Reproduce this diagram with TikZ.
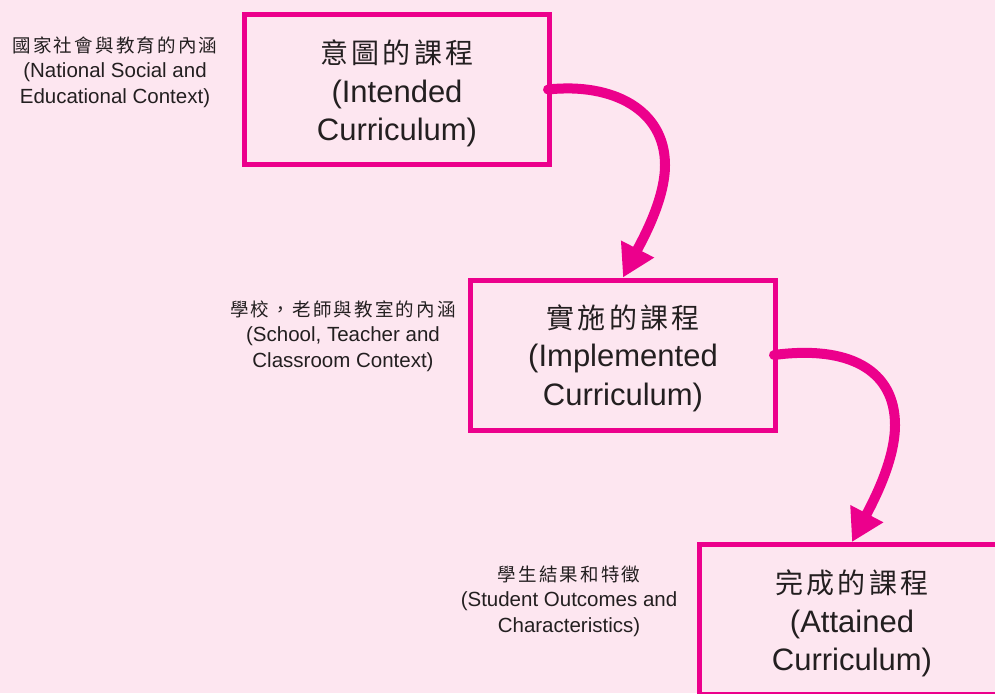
\documentclass[tikz,border=0pt]{standalone}
\usepackage{fontspec}
\setmainfont{Liberation Sans}
\newfontfamily\cjk[LetterSpace=12]{Noto Sans CJK TC}
\usetikzlibrary{arrows.meta}
\definecolor{bg}{RGB}{253,230,240}
\definecolor{mag}{RGB}{236,0,140}
\definecolor{ink}{RGB}{35,31,32}
\begin{document}
\begin{tikzpicture}[x=1pt,y=-1pt,
  box/.style={draw=mag, line width=5pt, minimum width=305pt, minimum height=150pt, inner sep=0pt},
  boxtext/.style={align=center, inner sep=0pt, text=ink, font=\fontsize{31}{38.5}\selectfont},
  side/.style={align=center, inner sep=0pt, text=ink, font=\fontsize{20.5}{25.5}\selectfont},
  flow/.style={draw=mag, line width=10pt, line cap=round,
    -{Triangle[length=32pt,width=35pt]}}]
\clip (0,0) rectangle (995,693);
\fill[bg] (0,0) rectangle (995,693);
\node[box] (b1) at (397,89.5) {};
\node[box] (b2) at (623,355) {};
\node[box] (b3) at (852,619.5) {};
\node[boxtext] (t1) at ([yshift=-4pt]b1.center) {{\cjk\fontsize{28}{38.5}\selectfont 意圖的課程}\\(Intended\\Curriculum)};
\node[boxtext] (t2) at ([yshift=-3pt]b2.center) {{\cjk\fontsize{28}{38.5}\selectfont 實施的課程}\\(Implemented\\Curriculum)};
\node[boxtext] (t3) at ([yshift=-4pt]b3.center) {{\cjk\fontsize{28}{38.5}\selectfont 完成的課程}\\(Attained\\Curriculum)};
\node[side] (s1) at (115,72) {{\cjk\fontsize{18.5}{25.5}\selectfont 國家社會與教育的內涵}\\(National Social and\\Educational Context)};
\node[side] (s2) at (343,336) {{\cjk\fontsize{18.5}{25.5}\selectfont 學校，老師與教室的內涵}\\(School, Teacher and\\Classroom Context)};
\node[side] (s3) at (569,601) {{\cjk\fontsize{18.5}{25.5}\selectfont 學生結果和特徵}\\(Student Outcomes and\\Characteristics)};
\draw[flow] ([xshift=-4pt]b1.east) .. controls +(65,-7) and +(0,-55) .. (665,165)
  .. controls +(0,35) and +(19,-37) .. (b2.north);
\draw[flow] ([xshift=-4pt]b2.east) .. controls +(75,-10) and +(0,-55) .. (895,425)
  .. controls +(0,35) and +(22,-42) .. (b3.north);
\end{tikzpicture}
\end{document}
